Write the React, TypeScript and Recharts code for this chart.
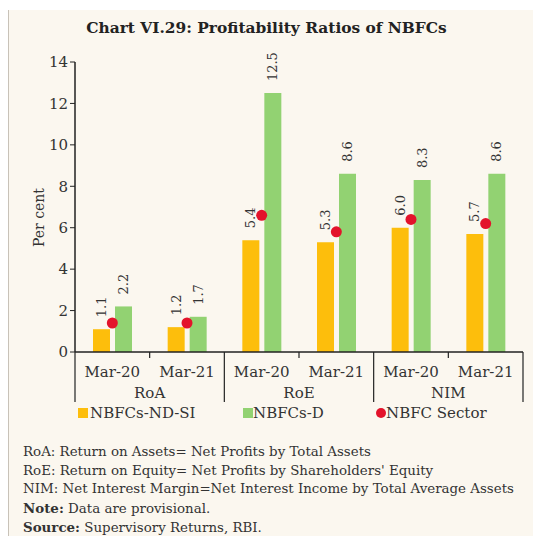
import React from 'react';
import { ComposedChart, Bar, Line, XAxis, YAxis, Legend, LabelList } from 'recharts';

const periods = ['Mar-20', 'Mar-21', 'Mar-20', 'Mar-21', 'Mar-20', 'Mar-21'];
const groups = ['RoA', 'RoA', 'RoE', 'RoE', 'NIM', 'NIM'];
const ndsi = [1.1, 1.2, 5.4, 5.3, 6.0, 5.7];
const nbfcD = [2.2, 1.7, 12.5, 8.6, 8.3, 8.6];
const sector = [1.4, 1.4, 6.6, 5.8, 6.4, 6.2];
const yTicks = [0, 2, 4, 6, 8, 10, 12, 14];

const notes = [
  'RoA: Return on Assets= Net Profits by Total Assets',
  "RoE: Return on Equity= Net Profits by Shareholders' Equity",
  'NIM: Net Interest Margin=Net Interest Income by Total Average Assets',
];

const data = periods.map((p, i) => ({
  key: `${groups[i]} ${p}`,
  ndsi: ndsi[i],
  nbfcD: nbfcD[i],
  sector: sector[i],
}));

const FONT = '"DejaVu Serif", serif';
const ORANGE = '#FDBE0C';
const GREEN = '#92D272';
const RED = '#E3132B';
const BG = '#FBF7EF';

const CatTick = (props: any) => {
  const { x, y, payload, index } = props;
  const half = payload && payload.offset ? payload.offset : 37.33;
  const i = index;
  return (
    <g>
      {i % 2 === 0 ? (
        <line x1={x - half} x2={x - half} y1={y} y2={y + 50} stroke="#222" strokeWidth={1.2} />
      ) : (
        <line x1={x - half} x2={x - half} y1={y} y2={y + 6} stroke="#222" strokeWidth={1.2} />
      )}
      {i === periods.length - 1 && (
        <line x1={x + half} x2={x + half} y1={y} y2={y + 50} stroke="#222" strokeWidth={1.2} />
      )}
      <text x={x} y={y + 25} textAnchor="middle" fontSize={15} fontFamily={FONT} fill="#333">
        {periods[i]}
      </text>
      {i % 2 === 0 && (
        <text x={x + half} y={y + 46} textAnchor="middle" fontSize={15} fontFamily={FONT} fill="#333">
          {groups[i]}
        </text>
      )}
    </g>
  );
};

const BarLabel = (props: any) => {
  const { x, y, width, value } = props;
  const cx = x + width / 2;
  const ty = y - 12;
  return (
    <text
      x={cx}
      y={ty}
      transform={`rotate(-90, ${cx}, ${ty})`}
      textAnchor="start"
      dominantBaseline="central"
      fontSize={13}
      fontFamily={FONT}
      fill="#333"
    >
      {Number(value).toFixed(1)}
    </text>
  );
};

const LegendContent = () => (
  <div style={{ position: 'relative', height: 20, fontFamily: FONT, fontSize: 15, color: '#333' }}>
    <span style={{ position: 'absolute', left: 0, top: 4, width: 10, height: 10, background: ORANGE }} />
    <span style={{ position: 'absolute', left: 12, top: 0 }}>NBFCs-ND-SI</span>
    <span style={{ position: 'absolute', left: 165, top: 4, width: 10, height: 10, background: GREEN }} />
    <span style={{ position: 'absolute', left: 175, top: 0 }}>NBFCs-D</span>
    <span style={{ position: 'absolute', left: 298, top: 4, width: 10, height: 10, borderRadius: 5, background: RED }} />
    <span style={{ position: 'absolute', left: 308, top: 0 }}>NBFC Sector</span>
  </div>
);

export default function App() {
  return (
    <div style={{ position: 'absolute', left: 0, top: 0, width: 539, height: 536, background: '#fff' }}>
      <div
        style={{
          position: 'absolute',
          left: 8,
          top: 10,
          width: 524,
          height: 526,
          background: BG,
          borderLeft: '1.5px solid #c8c2b8',
        }}
      />
      <div
        style={{
          position: 'absolute',
          left: 0,
          width: 533,
          top: 19,
          textAlign: 'center',
          fontFamily: FONT,
          fontWeight: 'bold',
          fontSize: 15.4,
          color: '#222',
        }}
      >
        Chart VI.29: Profitability Ratios of NBFCs
      </div>
      <div style={{ position: 'absolute', left: 0, top: 0 }}>
        <ComposedChart
          width={539}
          height={430}
          data={data}
          margin={{ top: 62, right: 16, left: 15, bottom: 28 }}
          barCategoryGap={18}
          barGap={5}
        >
          <XAxis
            dataKey="key"
            tick={<CatTick />}
            tickLine={false}
            tickSize={0}
            tickMargin={0}
            height={50}
            interval={0}
            axisLine={{ stroke: '#222', strokeWidth: 1.5 }}
          />
          <YAxis
            domain={[0, 14]}
            ticks={yTicks}
            width={60}
            tickSize={5}
            tickMargin={2}
            tick={{ fontSize: 15, fontFamily: FONT, fill: '#333' }}
            axisLine={{ stroke: '#222', strokeWidth: 1.5 }}
            tickLine={{ stroke: '#222' }}
            label={{
              value: 'Per cent',
              angle: -90,
              position: 'insideLeft',
              offset: 24,
              dy: 40,
              style: { fontSize: 14, fontFamily: FONT, fill: '#333' },
            }}
          />
          <Legend
            verticalAlign="middle"
            layout="horizontal"
            content={<LegendContent />}
            wrapperStyle={{ top: 404, left: 78, width: 450 }}
          />
          <Bar dataKey="ndsi" name="NBFCs-ND-SI" fill={ORANGE} isAnimationActive={false}>
            <LabelList dataKey="ndsi" content={<BarLabel />} />
          </Bar>
          <Bar dataKey="nbfcD" name="NBFCs-D" fill={GREEN} isAnimationActive={false}>
            <LabelList dataKey="nbfcD" content={<BarLabel />} />
          </Bar>
          <Line
            dataKey="sector"
            name="NBFC Sector"
            stroke="none"
            dot={{ r: 5.5, fill: RED, stroke: RED, strokeWidth: 0 }}
            activeDot={false}
            isAnimationActive={false}
          />
        </ComposedChart>
      </div>
      <div
        style={{
          position: 'absolute',
          left: 23,
          top: 443,
          fontFamily: FONT,
          fontSize: 13.4,
          lineHeight: '18.5px',
          color: '#333',
          whiteSpace: 'nowrap',
        }}
      >
        {notes.map((n) => (
          <div key={n}>{n}</div>
        ))}
        <div>
          <b>Note:</b> Data are provisional.
        </div>
        <div>
          <b>Source:</b> Supervisory Returns, RBI.
        </div>
      </div>
    </div>
  );
}
